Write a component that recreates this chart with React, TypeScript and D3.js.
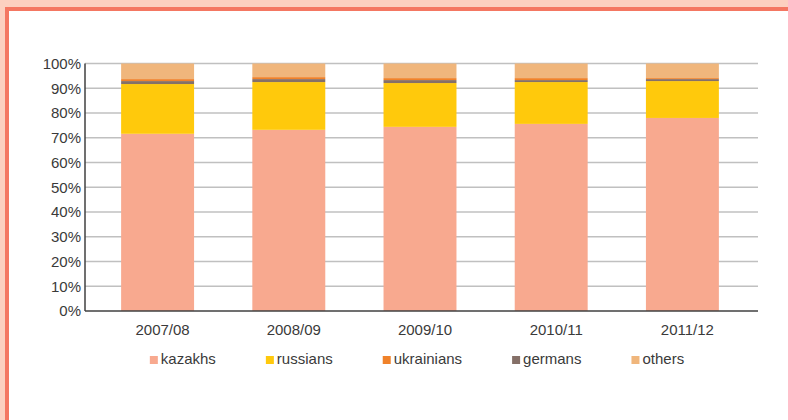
import { useRef, useEffect } from "react";
import * as d3 from "d3";

const years: string[] = ["2007/08", "2008/09", "2009/10", "2010/11", "2011/12"];
const kazakhs: number[] = [71.6, 73.2, 74.4, 75.6, 78.0];
const russians: number[] = [20.1, 19.3, 17.7, 16.9, 14.9];
const ukrainians: number[] = [0.8, 0.8, 0.8, 0.8, 0.4];
const germans: number[] = [1.2, 1.2, 1.2, 0.8, 0.8];
const others: number[] = [6.3, 5.5, 5.9, 5.9, 5.9];
const yTicks: number[] = [0, 10, 20, 30, 40, 50, 60, 70, 80, 90, 100];

// legend order
const seriesNames: string[] = ["kazakhs", "russians", "ukrainians", "germans", "others"];
const seriesColors: string[] = ["#f8a98f", "#ffc90c", "#f0822a", "#857068", "#f0b67c"];
// stacking order as seen in the bars (germans sit under ukrainians)
const stackOrder: string[] = ["kazakhs", "russians", "germans", "ukrainians", "others"];

const W = 788;
const H = 420;
const FONT = "'Liberation Sans', Arial, sans-serif";
const TEXT = "#3a3a3a";

export default function App() {
    const svgRef = useRef<SVGSVGElement | null>(null);

    useEffect(() => {
        if (!svgRef.current) return;
        const svg = d3.select(svgRef.current);
        svg.selectAll("*").remove();

        const margin = { top: 63.5, bottom: 311, axisLeft: 85, axisRight: 758 };

        // frame
        svg.append("rect").attr("x", 0).attr("y", 0).attr("width", W).attr("height", H).attr("fill", "#fcd0c0");
        svg.append("rect").attr("x", 5).attr("y", 7).attr("width", W - 5).attr("height", H - 7).attr("fill", "#f47762");
        svg.append("rect").attr("x", 9).attr("y", 11).attr("width", W - 9).attr("height", H - 11).attr("fill", "#ffffff");

        const rows = years.map((y, i) => ({
            year: y,
            kazakhs: kazakhs[i],
            russians: russians[i],
            ukrainians: ukrainians[i],
            germans: germans[i],
            others: others[i],
        }));

        const xScale = d3.scaleBand()
            .domain(years)
            .range([92, 748])
            .paddingInner(0.444)
            .paddingOuter(0.222);
        const yScale = d3.scaleLinear().domain([0, 100]).range([margin.bottom, margin.top]);

        // grid
        svg.append("g")
            .selectAll("line")
            .data(yTicks.filter(t => t > 0))
            .join("line")
            .attr("x1", margin.axisLeft)
            .attr("x2", margin.axisRight)
            .attr("y1", d => yScale(d))
            .attr("y2", d => yScale(d))
            .attr("stroke", "#c0c0c0")
            .attr("stroke-width", 1.5);

        // bars
        const stack = d3.stack<any>().keys(stackOrder);
        const layers = stack(rows);
        svg.append("g")
            .selectAll("g")
            .data(layers)
            .join("g")
            .attr("fill", (d: any) => seriesColors[seriesNames.indexOf(d.key)])
            .selectAll("rect")
            .data((d: any) => d)
            .join("rect")
            .attr("x", (d: any) => xScale(d.data.year) as number)
            .attr("width", xScale.bandwidth())
            .attr("y", (d: any) => yScale(d[1]))
            .attr("height", (d: any) => yScale(d[0]) - yScale(d[1]));

        // axes lines
        svg.append("line")
            .attr("x1", margin.axisLeft).attr("x2", margin.axisLeft)
            .attr("y1", margin.top).attr("y2", margin.bottom)
            .attr("stroke", "#404040").attr("stroke-width", 1.5);
        svg.append("line")
            .attr("x1", margin.axisLeft).attr("x2", margin.axisRight)
            .attr("y1", margin.bottom).attr("y2", margin.bottom)
            .attr("stroke", "#404040").attr("stroke-width", 1.5);

        // y labels
        svg.append("g")
            .selectAll("text")
            .data(yTicks)
            .join("text")
            .attr("x", 81)
            .attr("y", d => yScale(d))
            .attr("dy", "0.35em")
            .attr("text-anchor", "end")
            .attr("font-family", FONT)
            .attr("font-size", 15)
            .attr("fill", TEXT)
            .text(d => d + "%");

        // x labels
        svg.append("g")
            .selectAll("text")
            .data(years)
            .join("text")
            .attr("x", d => (xScale(d) as number) + xScale.bandwidth() / 2 + 5)
            .attr("y", 335)
            .attr("text-anchor", "middle")
            .attr("font-family", FONT)
            .attr("font-size", 15)
            .attr("fill", TEXT)
            .text(d => d);

        // legend
        const legend = svg.append("g");
        const items = legend.selectAll("g")
            .data(seriesNames)
            .join("g");
        items.append("rect")
            .attr("x", 0).attr("y", -8)
            .attr("width", 8).attr("height", 8)
            .attr("fill", (_d, i) => seriesColors[i]);
        items.append("text")
            .attr("x", 11).attr("y", 0)
            .attr("font-family", FONT)
            .attr("font-size", 15)
            .attr("fill", TEXT)
            .text(d => d);

        let offset = 0;
        const widths: number[] = [];
        items.each(function () {
            const t = d3.select(this).select("text").node() as SVGTextElement;
            widths.push(11 + t.getComputedTextLength());
        });
        const gap = 50;
        const total = d3.sum(widths) + gap * (widths.length - 1);
        const startX = 417 - total / 2;
        items.attr("transform", (_d, i) => {
            const x = startX + offset;
            offset += widths[i] + gap;
            return `translate(${x},364)`;
        });
    }, []);

    return (
        <svg ref={svgRef} width={W} height={H}
            style={{ position: "absolute", left: 0, top: 0, display: "block" }} />
    );
}
